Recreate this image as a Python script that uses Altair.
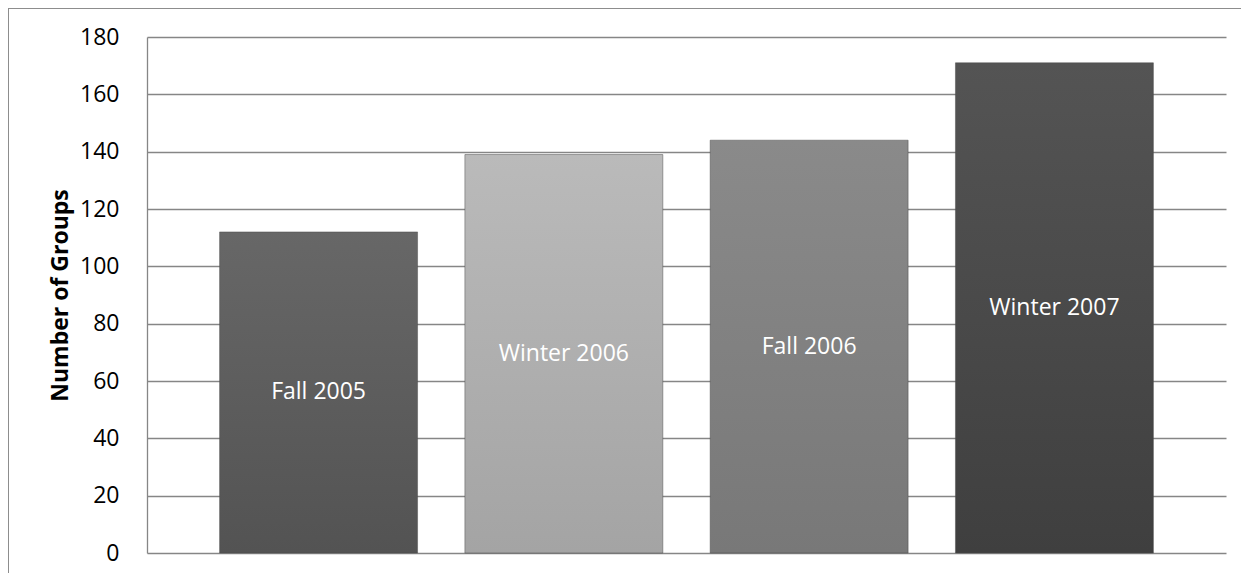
import altair as alt
import pandas as pd

categories = ["Fall 2005", "Winter 2006", "Fall 2006", "Winter 2007"]
values = [112, 139, 144, 171]
y_ticks = [0, 20, 40, 60, 80, 100, 120, 140, 160, 180]

# style: per-bar gradient (top, bottom)
top_colors = ["#676767", "#bababa", "#8a8a8a", "#545454"]
bottom_colors = ["#535353", "#a4a4a4", "#787878", "#3f3f3f"]

df = pd.DataFrame({"category": categories, "value": values})

x_enc = alt.X("category:N", sort=categories,
              scale=alt.Scale(domain=categories, paddingInner=0.193, paddingOuter=0.296),
              axis=None)
y_scale = alt.Scale(domain=[0, 180], nice=False)
y_axis = alt.Axis(values=y_ticks, title="Number of Groups", grid=True, ticks=False,
                  labelFont="Open Sans", labelFontSize=23, labelColor="#000000",
                  labelPadding=28, titleFont="Open Sans", titleFontSize=23,
                  titleFontWeight="bold", titleColor="#000000", titlePadding=7,
                  domainColor="#868686", gridColor="#868686", gridWidth=1.3,
                  domainWidth=1.3)

layers = []
for i, cat in enumerate(categories):
    grad = alt.Gradient(gradient="linear",
                        stops=[alt.GradientStop(color=top_colors[i], offset=0),
                               alt.GradientStop(color=bottom_colors[i], offset=1)],
                        x1=0, x2=0, y1=0, y2=1)
    layer = alt.Chart(df).transform_filter(alt.datum.category == cat).mark_bar(
        color=grad, stroke="#4a4a4a", strokeWidth=0.8, strokeOpacity=0.6
    ).encode(
        x=x_enc,
        y=alt.Y("value:Q", scale=y_scale, axis=y_axis),
    )
    layers.append(layer)

labels = alt.Chart(df).transform_calculate(mid="datum.value / 2").mark_text(
    font="Open Sans", fontSize=23, color="#ffffff", baseline="middle", align="center"
).encode(
    x=x_enc,
    y=alt.Y("mid:Q", scale=y_scale, axis=y_axis),
    text="category:N",
)

frame_left = alt.Chart(df).mark_rule(color="#8c8c8c", strokeWidth=1.3).encode(
    x=alt.value(-139), y=alt.value(-29), y2=alt.value(560)
)
frame_top = alt.Chart(df).mark_rule(color="#8c8c8c", strokeWidth=1.3).encode(
    x=alt.value(-139), x2=alt.value(1120), y=alt.value(-29)
)

chart = alt.layer(*layers, labels, frame_left, frame_top).properties(
    width=1079, height=516,
    autosize=alt.AutoSizeParams(type="none"),
    padding={"left": 139, "top": 29, "right": 15, "bottom": 20},
).configure(background="#ffffff").configure_view(stroke=None)

chart.save("out.html", embed_options={"renderer": "svg", "actions": False})
